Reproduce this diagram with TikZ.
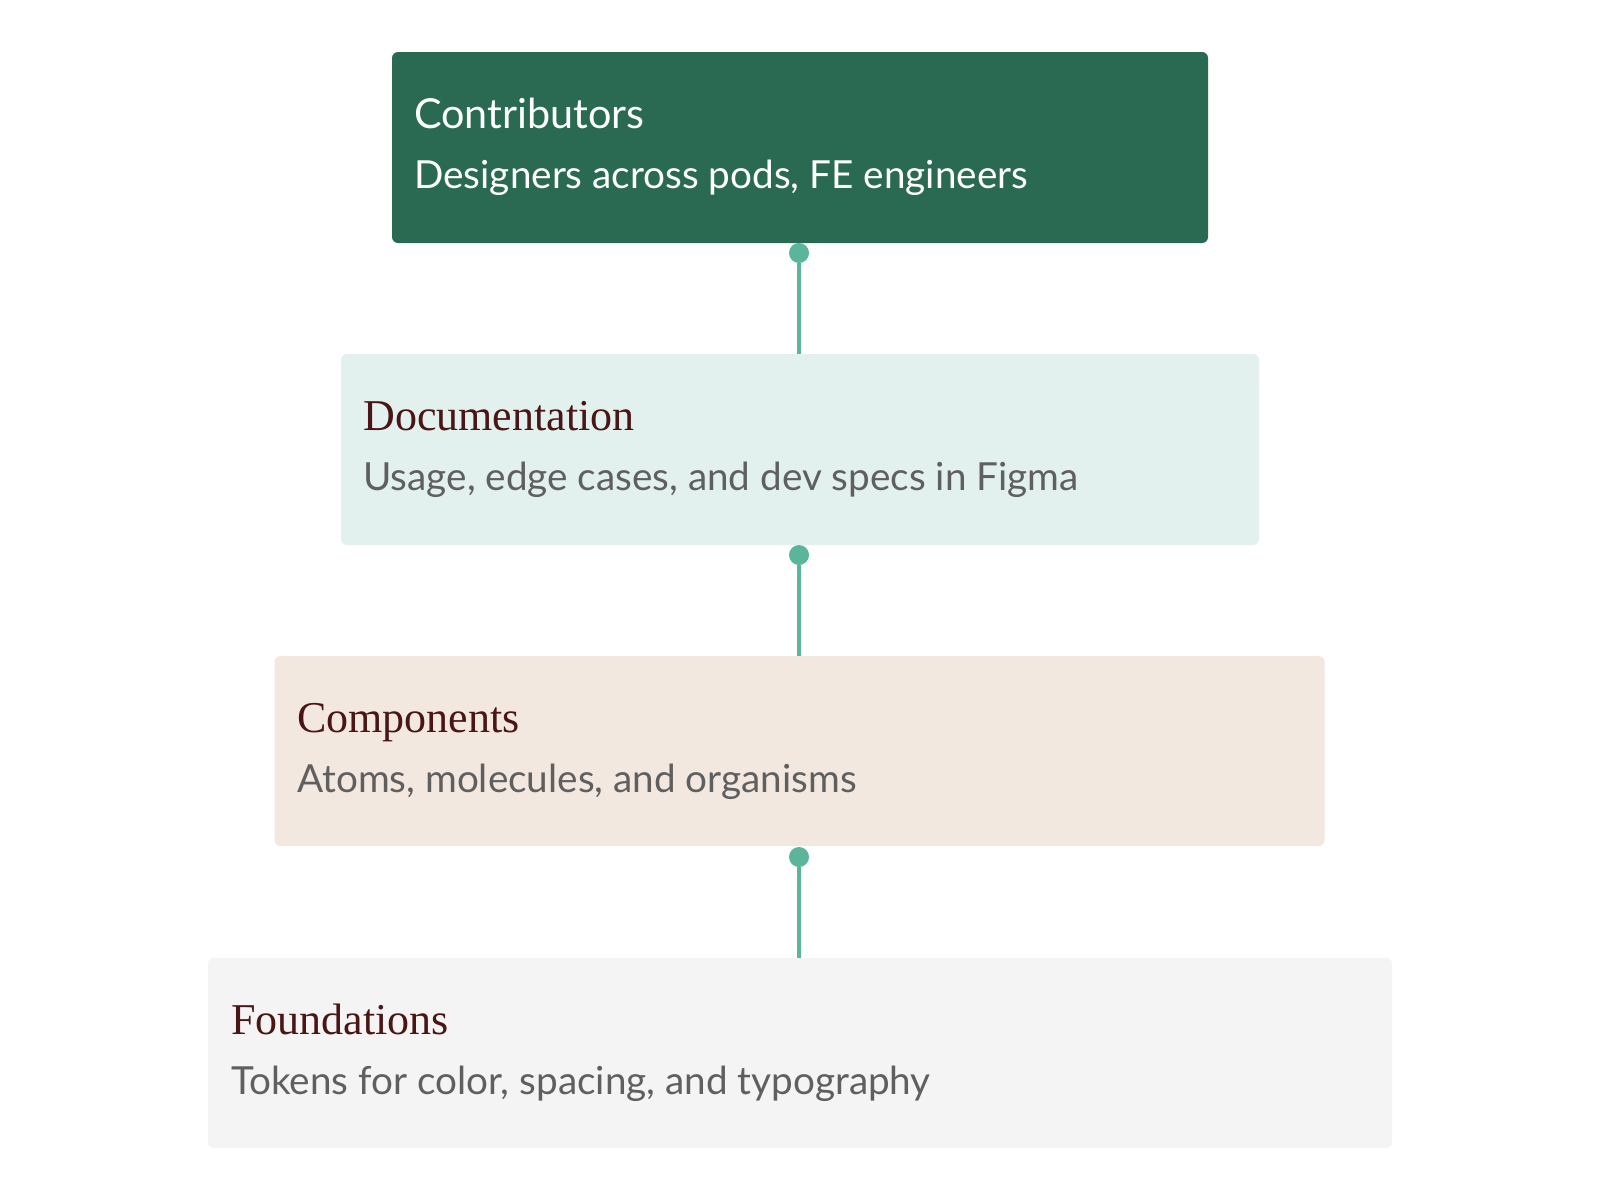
\documentclass[tikz,border=0pt]{standalone}
\usepackage{fontspec}
\setmainfont{Lato}
\newfontfamily\ttl{Liberation Serif}
\definecolor{dg}{HTML}{2A6A53}
\definecolor{docf}{HTML}{E2F1EE}
\definecolor{comf}{HTML}{F2E8E0}
\definecolor{fouf}{HTML}{F4F4F4}
\definecolor{tc}{HTML}{4A1515}
\definecolor{sc}{HTML}{5F5F5F}
\definecolor{cn}{HTML}{5BB59B}
\begin{document}
\begin{tikzpicture}[x=0.75pt,y=-0.75pt,
  box/.style={rounded corners=4.5pt},
  t/.style={anchor=base west,inner sep=0pt,font=\fontsize{31}{36}\selectfont},
  s/.style={anchor=base west,inner sep=0pt,font=\fontsize{29}{34}\selectfont,text=sc},
  dot/.style={circle,fill=cn,inner sep=0pt,minimum size=15pt},
  ln/.style={cn,line width=2.3pt}]
\useasboundingbox (0,0) rectangle (1600,1200);
\fill[white] (0,0) rectangle (1600,1200);
\fill[box,dg] (392,52) rectangle (1208,243);
\fill[box,docf] (341,354) rectangle (1259,545);
\fill[box,comf] (274.5,656) rectangle (1324.5,846);
\fill[box,fouf] (208,958) rectangle (1392,1148);
\node[t,text=white] (c1) at (414,128) {Contributors};
\node[s,text=white] (c2) at (414,188) {Designers across pods, FE engineers};
\node[t,text=tc,font=\ttl\fontsize{33}{38}\selectfont] (d1) at (363,430) {Documentation};
\node[s] (d2) at (363,490) {Usage, edge cases, and dev specs in Figma};
\node[t,text=tc,font=\ttl\fontsize{33}{38}\selectfont] (p1) at (297,732) {Components};
\node[s] (p2) at (297,792) {Atoms, molecules, and organisms};
\node[t,text=tc,font=\ttl\fontsize{33}{38}\selectfont] (f1) at (231,1034) {Foundations};
\node[s] (f2) at (231,1094) {Tokens for color, spacing, and typography};
\node[dot] (k1) at (799,253) {};
\node[dot] (k2) at (799,555) {};
\node[dot] (k3) at (799,857) {};
\coordinate (e1) at (799,354);
\coordinate (e2) at (799,656);
\coordinate (e3) at (799,958);
\draw[ln] (k1) -- (e1);
\draw[ln] (k2) -- (e2);
\draw[ln] (k3) -- (e3);
\end{tikzpicture}
\end{document}
